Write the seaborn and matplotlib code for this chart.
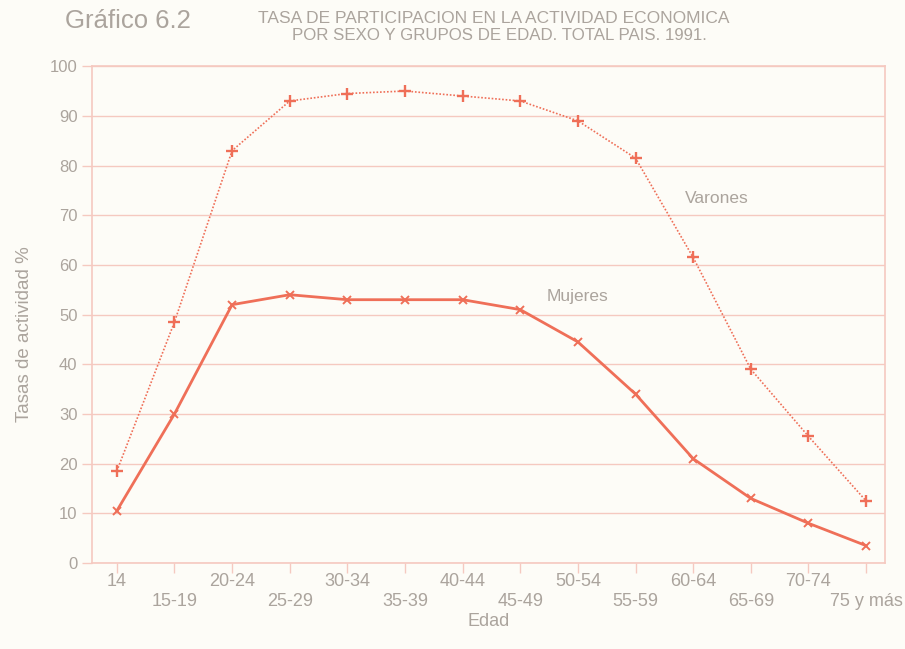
import matplotlib
matplotlib.use("Agg")
import matplotlib.pyplot as plt
import seaborn as sns
import pandas as pd

# Age groups and activity rates (%) by sex, 1991
edades = ["14", "15-19", "20-24", "25-29", "30-34", "35-39", "40-44",
          "45-49", "50-54", "55-59", "60-64", "65-69", "70-74", "75 y más"]
varones = [18.5, 48.5, 83, 93, 94.5, 95, 94, 93, 89, 81.5, 61.5, 39, 25.5, 12.5]
mujeres = [10.5, 30, 52, 54, 53, 53, 53, 51, 44.5, 34, 21, 13, 8, 3.5]
yticks = list(range(0, 101, 10))

sns.set_theme(style="white")
plt.rcParams["font.family"] = ["Liberation Sans", "DejaVu Sans"]

line_col = "#ef6f58"
grid_col = "#f5c9c0"
text_col = "#aba49d"
bg = "#fdfcf7"

df = pd.DataFrame({
    "pos": list(range(len(edades))) * 2,
    "tasa": varones + mujeres,
    "sexo": ["Varones"] * len(edades) + ["Mujeres"] * len(edades),
})

fig = plt.figure(figsize=(9.05, 6.49), dpi=100, facecolor=bg)
ax = fig.add_axes([0.1017, 0.1325, 0.8763, 0.7655], facecolor=bg)

sns.lineplot(data=df[df.sexo == "Varones"], x="pos", y="tasa", ax=ax,
             color=line_col, linewidth=1.2, linestyle=(0, (1, 1.1)),
             marker="+", markersize=8, markeredgewidth=1.7,
             markeredgecolor=line_col, sort=False)
sns.lineplot(data=df[df.sexo == "Mujeres"], x="pos", y="tasa", ax=ax,
             color=line_col, linewidth=2.0, linestyle="-",
             marker="x", markersize=6, markeredgewidth=1.4,
             markeredgecolor=line_col, sort=False)

ax.set_xlim(-0.43, 13.33)
ax.set_ylim(0, 100)
ax.set_yticks(yticks)
ax.set_yticklabels([str(v) for v in yticks])
ax.grid(axis="y", color=grid_col, linewidth=1.0)
ax.set_axisbelow(True)

ax.set_xticks(range(len(edades)))
ax.set_xticklabels([e if i % 2 == 0 else "\n" + e for i, e in enumerate(edades)],
                   linespacing=1.25)

for s in ax.spines.values():
    s.set_color(grid_col)
    s.set_linewidth(1.2)
ax.tick_params(axis="both", which="major", direction="out", length=7,
               width=1.0, color=grid_col, labelcolor=text_col,
               bottom=True, left=True)
ax.tick_params(axis="x", pad=0, labelsize=13)
ax.tick_params(axis="y", labelsize=12)

ax.set_xlabel("Edad", color=text_col, fontsize=13, labelpad=2)
ax.set_ylabel("Tasas de actividad %", color=text_col, fontsize=13.5)
ax.yaxis.set_label_coords(-0.075, 0.46)

ax.text(9.85, 73.4, "Varones", color=text_col, fontsize=12.5, va="center", ha="left")
ax.text(7.45, 53.7, "Mujeres", color=text_col, fontsize=12.5, va="center", ha="left")

fig.text(0.072, 0.967, "Gráfico 6.2", color=text_col, fontsize=18.5, va="center", ha="left")
fig.text(0.546, 0.971, "TASA DE PARTICIPACION EN LA ACTIVIDAD ECONOMICA",
         color=text_col, fontsize=12.5, va="center", ha="center")
fig.text(0.552, 0.946, "POR SEXO Y GRUPOS DE EDAD. TOTAL PAIS. 1991.",
         color=text_col, fontsize=12.2, va="center", ha="center")

fig.savefig("out.png", dpi=100, facecolor=bg)
